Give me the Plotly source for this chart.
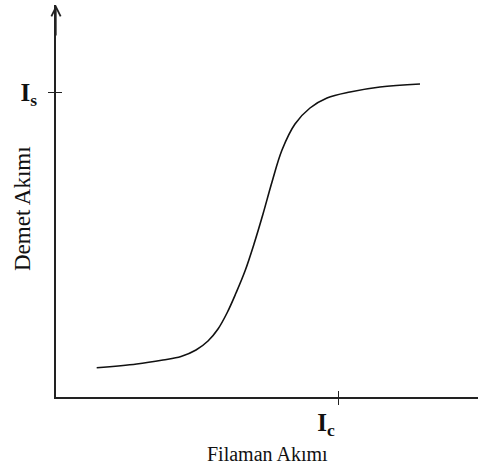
import plotly.graph_objects as go

# Filament current (x) vs beam current (y), arbitrary units
filament_current = [40.7, 80.7, 107, 125, 140, 152, 162, 171, 180, 189, 198, 207, 216, 226, 239, 254, 271, 294, 324, 364]
beam_current = [29.3, 33, 37, 40.5, 47, 56, 68, 84, 104, 126, 153, 183, 215, 247, 273, 289, 299, 305, 310, 313]

ic_value = 282
is_value = 305
x_tick_labels = ["<b>I<sub>c</sub></b>"]
y_tick_labels = ["<b>I<sub>s</sub></b>"]

serif = "Liberation Serif, Times New Roman, serif"

fig = go.Figure()
fig.add_trace(go.Scatter(
    x=filament_current, y=beam_current, mode="lines",
    line=dict(color="#111111", width=1.6, shape="spline", smoothing=1.0),
    hoverinfo="skip", showlegend=False,
))

fig.update_layout(
    width=478, height=473,
    margin=dict(l=56, r=0, t=5, b=76),
    paper_bgcolor="white", plot_bgcolor="white",
    font=dict(family=serif, color="#111111"),
    xaxis=dict(
        range=[0, 422], showgrid=False, zeroline=False,
        showline=True, linecolor="#222222", linewidth=2,
        tickvals=[ic_value], ticktext=x_tick_labels,
        ticks="outside", ticklen=6, tickwidth=1, tickcolor="#222222",
        tickfont=dict(family=serif, size=25, color="#111111"),
        ticklabelshift=-12, ticklabelstandoff=-4,
    ),
    yaxis=dict(
        range=[0, 392], showgrid=False, zeroline=False,
        showline=True, linecolor="#222222", linewidth=2,
        tickvals=[is_value], ticktext=y_tick_labels,
        ticks="outside", ticklen=6, tickwidth=1, tickcolor="#222222",
        tickfont=dict(family=serif, size=25, color="#111111"),
        ticklabelstandoff=6,
    ),
    xaxis2=dict(range=[0, 422], overlaying="x", visible=True, showgrid=False,
                zeroline=False, showline=False, tickvals=[ic_value], ticktext=[""],
                ticks="inside", ticklen=6, tickwidth=1, tickcolor="#222222",
                side="bottom", anchor="y"),
    yaxis2=dict(range=[0, 392], overlaying="y", visible=True, showgrid=False,
                zeroline=False, showline=False, tickvals=[is_value], ticktext=[""],
                ticks="inside", ticklen=6, tickwidth=1, tickcolor="#222222",
                side="left", anchor="x"),
)

# dummy trace to activate secondary axes
fig.add_trace(go.Scatter(x=[None], y=[None], xaxis="x2", yaxis="y2",
                         showlegend=False, hoverinfo="skip"))

# axis arrowhead at top of y-axis
fig.add_annotation(x=0, y=392, ax=0, ay=360, xref="x", yref="y", axref="x", ayref="y",
                   showarrow=True, arrowhead=5, arrowsize=1.4, arrowwidth=1.3,
                   arrowcolor="#222222", text="")

# axis titles
fig.add_annotation(text="Filaman Akımı", xref="paper", yref="paper", x=0.5, y=0,
                   yshift=-57, showarrow=False, yanchor="middle",
                   font=dict(family=serif, size=20, color="#111111"))
fig.add_annotation(text="Demet Akımı", xref="paper", yref="paper", x=0, y=0.5,
                   xshift=-34, yshift=-8, showarrow=False, textangle=-90, xanchor="center",
                   font=dict(family=serif, size=23, color="#111111"))

fig.write_html("out.html")
